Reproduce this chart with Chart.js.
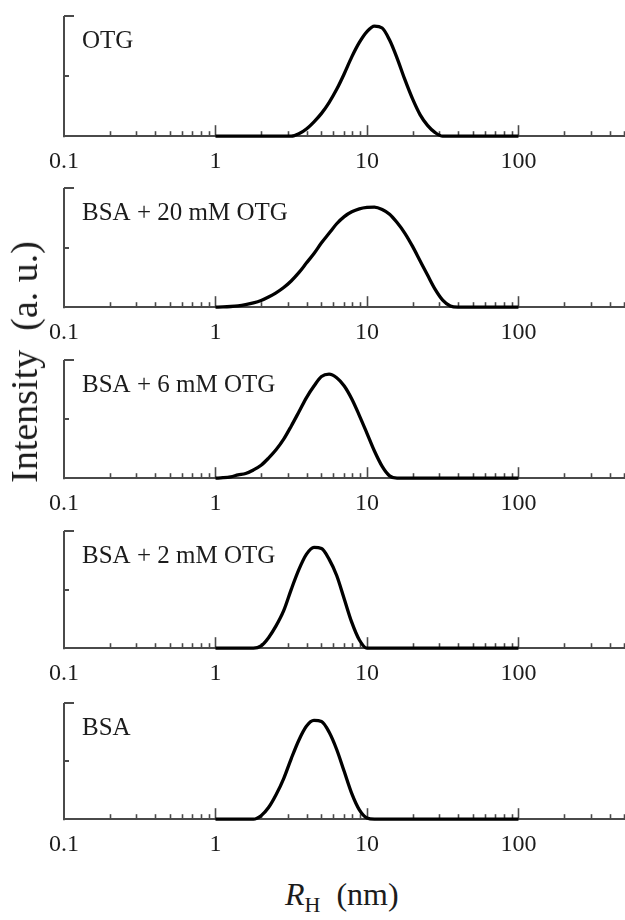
<!DOCTYPE html>
<html>
<head>
<meta charset="utf-8">
<title>Hydrodynamic radius distributions</title>
<script src="https://cdn.jsdelivr.net/npm/chart.js@4.4.0/dist/chart.umd.min.js"></script>
<style>
  body { margin: 0; background: #fff; width: 625px; height: 920px; overflow: hidden; position: relative; font-family: "Liberation Serif", "Times New Roman", serif; color: #1c1c1c; }
  .panel { position: absolute; left: 0; width: 625px; }
  #ytitle { position: absolute; left: 24px; top: 362px; transform: translate(-50%, -50%) rotate(-90deg); font-size: 38px; line-height: 1; white-space: pre; }
  #xtitle { position: absolute; left: 285px; top: 878px; font-size: 32px; line-height: 1; white-space: pre; }
  #xtitle sub { font-size: 22px; vertical-align: -7px; line-height: 0; }
</style>
</head>
<body>
<div id="charts"></div>
<div id="ytitle">Intensity  (a. u.)</div>
<div id="xtitle"><i>R</i><sub>H</sub>  (nm)</div>
<script>
// hydrodynamic radius bins (nm), shared by every sample
const radius = [1.00, 1.12, 1.26, 1.41, 1.58, 1.78, 2.00, 2.24, 2.51, 2.82,
                3.16, 3.55, 3.98, 4.47, 5.01, 5.62, 6.31, 7.08, 7.94, 8.91,
                10.0, 11.2, 12.6, 14.1, 15.8, 17.8, 20.0, 22.4, 25.1, 28.2,
                31.6, 35.5, 39.8, 44.7, 50.1, 56.2, 63.1, 70.8, 79.4, 89.1, 100];

// scattering intensity (a. u.) per bin
const otg = [0, 0, 0, 0, 0, 0, 0, 0, 0, 0,
             0, 0.02, 0.06, 0.12, 0.19, 0.28, 0.39, 0.52, 0.66, 0.78,
             0.87, 0.915, 0.90, 0.80, 0.65, 0.47, 0.31, 0.18, 0.09, 0.03,
             0, 0, 0, 0, 0, 0, 0, 0, 0, 0, 0];
const bsaOtg20 = [0, 0.002, 0.006, 0.012, 0.022, 0.036, 0.056, 0.085, 0.12, 0.165,
                  0.22, 0.29, 0.37, 0.45, 0.54, 0.62, 0.70, 0.76, 0.80, 0.825,
                  0.837, 0.84, 0.82, 0.78, 0.71, 0.62, 0.51, 0.39, 0.27, 0.15,
                  0.06, 0.01, 0, 0, 0, 0, 0, 0, 0, 0, 0];
const bsaOtg6 = [0, 0.004, 0.012, 0.028, 0.04, 0.07, 0.11, 0.17, 0.24, 0.33,
                 0.44, 0.56, 0.68, 0.78, 0.86, 0.88, 0.85, 0.78, 0.67, 0.53,
                 0.38, 0.23, 0.10, 0.02, 0, 0, 0, 0, 0, 0,
                 0, 0, 0, 0, 0, 0, 0, 0, 0, 0, 0];
const bsaOtg2 = [0, 0, 0, 0, 0, 0, 0.02, 0.09, 0.19, 0.32,
                 0.50, 0.67, 0.80, 0.86, 0.85, 0.76, 0.62, 0.42, 0.22, 0.07,
                 0, 0, 0, 0, 0, 0, 0, 0, 0, 0,
                 0, 0, 0, 0, 0, 0, 0, 0, 0, 0, 0];
const bsa = [0, 0, 0, 0, 0, 0, 0.03, 0.10, 0.21, 0.35,
             0.52, 0.68, 0.80, 0.85, 0.84, 0.75, 0.60, 0.41, 0.22, 0.08,
             0.01, 0, 0, 0, 0, 0, 0, 0, 0, 0,
             0, 0, 0, 0, 0, 0, 0, 0, 0, 0, 0];

const sampleNames = ['OTG', 'BSA + 20 mM OTG', 'BSA + 6 mM OTG', 'BSA + 2 mM OTG', 'BSA'];
const sampleSeries = [otg, bsaOtg20, bsaOtg6, bsaOtg2, bsa];

// x axis ticks
const xMajor = [0.1, 1, 10, 100];
const xMinor = [2, 3, 4, 5, 6, 7, 8, 9];
const yTicks = [0.5, 1];

// page layout: top of each plot frame and its baseline, in px
const frameTop = [16, 188, 360, 531, 703];
const frameBottom = [135, 306, 477, 647, 818];
const PAD_TOP = 16;
const X_AXIS_SPACE = 52;

const xTickValues = [];
xMajor.forEach(m => {
    xTickValues.push(m);
    xMinor.forEach(k => {
        const v = +(m * k).toPrecision(3);
        if (v <= 500) xTickValues.push(v);
    });
});

const AXIS_COLOR = '#4a4a4a';
const FONT = "'Liberation Serif', 'Times New Roman', serif";

// inward ticks, left axis and sample label
const frameMarks = {
    id: 'frameMarks',
    beforeDatasetsDraw(chart) {
        const { ctx, chartArea: a, scales: { x, y } } = chart;
        ctx.save();
        ctx.strokeStyle = AXIS_COLOR;
        ctx.lineWidth = 2;
        ctx.beginPath();
        ctx.moveTo(a.left, a.bottom + 1);
        ctx.lineTo(a.left, a.top);
        ctx.stroke();
        yTicks.forEach(v => {
            const py = Math.round(y.getPixelForValue(v));
            ctx.beginPath();
            ctx.moveTo(a.left, py);
            ctx.lineTo(a.left + (v === 1 ? 10 : 5), py);
            ctx.stroke();
        });
        ctx.lineWidth = 1.6;
        x.ticks.forEach(t => {
            if (t.value === 0.1) return;
            const px = Math.round(x.getPixelForValue(t.value)) + 0.5;
            const len = xMajor.includes(t.value) ? 11 : 5;
            ctx.beginPath();
            ctx.moveTo(px, a.bottom);
            ctx.lineTo(px, a.bottom - len);
            ctx.stroke();
        });
        ctx.restore();
    },
    afterDraw(chart, args, opts) {
        const { ctx, chartArea: a } = chart;
        ctx.save();
        ctx.fillStyle = '#1c1c1c';
        ctx.font = '25px ' + FONT;
        ctx.textBaseline = 'alphabetic';
        ctx.fillText(opts.text, a.left + 18, a.top + 32);
        ctx.restore();
    }
};

function buildPanels() {
    const holder = document.getElementById('charts');

    sampleSeries.forEach((series, i) => {
        const box = document.createElement('div');
        box.className = 'panel';
        box.style.top = (frameTop[i] - PAD_TOP) + 'px';
        box.style.height = (frameBottom[i] - frameTop[i] + PAD_TOP + X_AXIS_SPACE) + 'px';
        const canvas = document.createElement('canvas');
        box.appendChild(canvas);
        holder.appendChild(box);

        new Chart(canvas, {
            type: 'line',
            data: {
                datasets: [{
                    data: radius.map((r, k) => ({ x: r, y: series[k] })),
                    borderColor: '#000',
                    borderWidth: 3.3,
                    pointRadius: 0,
                    fill: false,
                    cubicInterpolationMode: 'monotone',
                    clip: false
                }]
            },
            options: {
                responsive: true,
                maintainAspectRatio: false,
                animation: false,
                devicePixelRatio: 1,
                layout: { padding: { left: 64, top: PAD_TOP, right: 0, bottom: 0 } },
                plugins: {
                    legend: { display: false },
                    tooltip: { enabled: false },
                    frameMarks: { text: sampleNames[i] }
                },
                scales: {
                    x: {
                        type: 'logarithmic',
                        min: 0.1,
                        max: 505,
                        afterBuildTicks: scale => {
                            scale.ticks = xTickValues.map(v => ({ value: v, major: xMajor.includes(v) }));
                        },
                        // axis runs to the right edge
                        afterFit: scale => { scale.paddingRight = 0; },
                        grid: { display: false, drawTicks: false },
                        border: { display: true, color: AXIS_COLOR, width: 2 },
                        ticks: {
                            autoSkip: false,
                            maxRotation: 0,
                            padding: 11,
                            color: '#1c1c1c',
                            font: { family: FONT, size: 24 },
                            callback: v => xMajor.includes(v) ? String(v) : ''
                        }
                    },
                    y: {
                        display: false,
                        min: 0,
                        max: 1
                    }
                }
            },
            plugins: [frameMarks]
        });
    });
}

if (document.fonts && document.fonts.load) {
    document.fonts.load("24px 'Liberation Serif'").then(buildPanels, buildPanels);
} else {
    buildPanels();
}
</script>
</body>
</html>
